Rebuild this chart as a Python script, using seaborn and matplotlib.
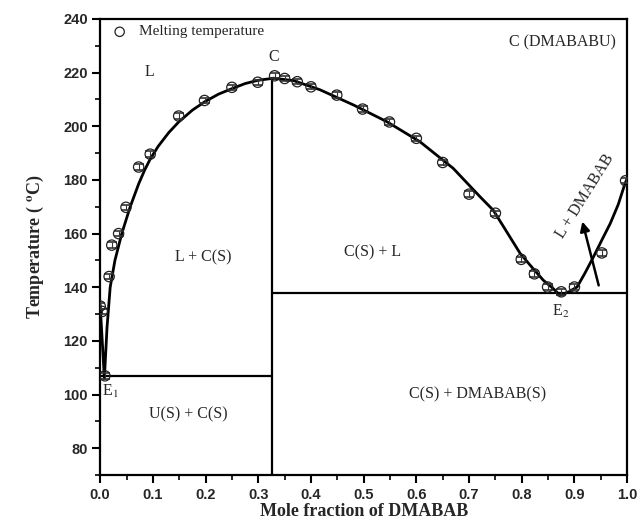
import numpy as np
import pandas as pd
import matplotlib
matplotlib.use("Agg")
import matplotlib.pyplot as plt
import seaborn as sns

# ---- data ----
pt_x = [0.000, 0.004, 0.009, 0.017, 0.022, 0.035, 0.049, 0.073, 0.095, 0.149,
        0.198, 0.250, 0.299, 0.331, 0.350, 0.374, 0.400, 0.449, 0.498, 0.549,
        0.600, 0.650, 0.700, 0.750, 0.799, 0.824, 0.849, 0.875, 0.900, 0.952, 0.997]
pt_y = [133.0, 131.0, 107.0, 144.0, 155.7, 160.0, 169.8, 184.8, 189.6, 203.8,
        209.6, 214.5, 216.4, 218.8, 217.8, 216.6, 214.7, 211.6, 206.4, 201.6,
        195.5, 186.5, 174.7, 167.6, 150.4, 145.0, 140.1, 138.3, 140.1, 152.8, 179.7]
pt_err = 1.0

curve_left_x = [0.000, 0.008, 0.013, 0.019, 0.028, 0.041, 0.057, 0.073, 0.084, 0.095,
                0.110, 0.130, 0.149, 0.175, 0.199, 0.225, 0.250, 0.275, 0.299, 0.329]
curve_left_y = [133.5, 106.0, 125.0, 140.0, 150.0, 160.0, 170.0, 178.5, 183.5, 187.8,
                192.5, 197.6, 201.6, 206.0, 209.2, 212.0, 214.0, 215.9, 217.1, 217.9]
curve_right_x = [0.329, 0.367, 0.417, 0.481, 0.544, 0.607, 0.670, 0.721, 0.746, 0.772,
                 0.797, 0.820, 0.841, 0.858, 0.873, 0.890, 0.905, 0.920, 0.936, 0.952,
                 0.968, 0.983, 0.996, 1.000]
curve_right_y = [217.9, 217.0, 213.6, 207.9, 201.7, 194.2, 184.3, 173.7, 168.7, 160.5,
                 152.6, 147.3, 142.6, 139.8, 137.0, 138.4, 140.1, 145.3, 151.3, 157.6,
                 163.8, 170.8, 178.7, 180.5]

x_comp_C = 0.327
T_E1 = 107.0
T_E2 = 137.8
T_C = 217.9

xticks = [0.0, 0.1, 0.2, 0.3, 0.4, 0.5, 0.6, 0.7, 0.8, 0.9, 1.0]
yticks = [80, 100, 120, 140, 160, 180, 200, 220, 240]

# ---- style ----
sns.set_theme(style="ticks")
plt.rcParams['font.family'] = ['Liberation Serif', 'DejaVu Serif']
plt.rcParams['mathtext.fontset'] = 'stix'

fig = plt.figure(figsize=(6.38, 5.25), dpi=100)
ax = fig.add_axes([0.157, 0.095, 0.826, 0.869])

# phase boundary lines
ax.plot([0.0, x_comp_C], [T_E1, T_E1], color='black', lw=1.6)
ax.plot([x_comp_C, x_comp_C], [70, T_C], color='black', lw=1.6)
ax.plot([x_comp_C, 1.0], [T_E2, T_E2], color='black', lw=1.6)

# fitted liquidus curves
dl = pd.DataFrame({'x': curve_left_x, 'y': curve_left_y})
dr = pd.DataFrame({'x': curve_right_x, 'y': curve_right_y})
sns.lineplot(data=dl, x='x', y='y', sort=False, estimator=None, color='black', lw=2.0, ax=ax)
sns.lineplot(data=dr, x='x', y='y', sort=False, estimator=None, color='black', lw=2.0, ax=ax)

# measured points with error bars
ax.errorbar(pt_x, pt_y, yerr=pt_err, fmt='none', ecolor='#333333', elinewidth=0.8,
            capsize=3.5, capthick=1.2, zorder=3)
dp = pd.DataFrame({'x': pt_x, 'y': pt_y})
sns.scatterplot(data=dp, x='x', y='y', marker='o', s=55, facecolors='none',
                edgecolor='#222222', linewidth=0.9, ax=ax, zorder=4)

# legend-like marker and text
ax.scatter([0.037], [235.2], s=45, facecolors='none', edgecolors='#222222', linewidth=0.9)
ax.text(0.073, 235.2, 'Melting temperature', fontsize=11, va='center', ha='left')

# region labels
lab_fs = 11.5
ax.text(0.094, 220.3, 'L', fontsize=lab_fs, ha='center', va='center')
ax.text(0.329, 225.7, 'C', fontsize=lab_fs, ha='center', va='center')
ax.text(0.877, 231.3, 'C (DMABABU)', fontsize=lab_fs, ha='center', va='center')
ax.text(0.196, 151.0, 'L + C(S)', fontsize=lab_fs, ha='center', va='center')
ax.text(0.517, 153.0, 'C(S) + L', fontsize=lab_fs, ha='center', va='center')
ax.text(0.168, 92.8, 'U(S) + C(S)', fontsize=lab_fs, ha='center', va='center')
ax.text(0.716, 100.2, 'C(S) + DMABAB(S)', fontsize=lab_fs, ha='center', va='center')
ax.text(0.020, 101.0, r'E$_1$', fontsize=lab_fs, ha='center', va='center')
ax.text(0.873, 131.0, r'E$_2$', fontsize=lab_fs, ha='center', va='center')
ax.text(0.921, 174.0, 'L + DMABAB', fontsize=lab_fs, ha='center', va='center',
        rotation=58, rotation_mode='anchor')
ax.annotate('', xy=(0.915, 164.5), xytext=(0.946, 140.7),
            arrowprops=dict(arrowstyle='-|>', lw=1.8, color='black', mutation_scale=14,
                            shrinkA=0, shrinkB=0))

# axes
ax.set_xlim(0.0, 1.0)
ax.set_ylim(70, 240)
ax.set_xticks(xticks)
ax.set_xticklabels([f'{v:.1f}' for v in xticks])
ax.set_yticks(yticks)
ax.set_xticks(np.arange(0.05, 1.0, 0.1), minor=True)
ax.set_yticks(np.arange(70, 240, 20), minor=True)
for lbl in ax.get_xticklabels() + ax.get_yticklabels():
    lbl.set_family(['Liberation Sans', 'DejaVu Sans'])
    lbl.set_fontweight('bold')
    lbl.set_fontsize(10.5)
ax.tick_params(which='major', direction='out', length=6, width=1.5, color='black',
               top=False, right=False, pad=3)
ax.tick_params(which='minor', direction='out', length=3.5, width=1.2, color='black',
               top=False, right=False)
for s in ax.spines.values():
    s.set_linewidth(1.6)
    s.set_color('black')

ax.set_xlabel('Mole fraction of DMABAB', fontsize=13, fontweight='bold', labelpad=1)
ax.set_ylabel(r'Temperature ( $^{\mathbf{o}}$C)', fontsize=13, fontweight='bold', labelpad=12)
ax.grid(False)

fig.savefig('out.png', dpi=100, facecolor='white')
